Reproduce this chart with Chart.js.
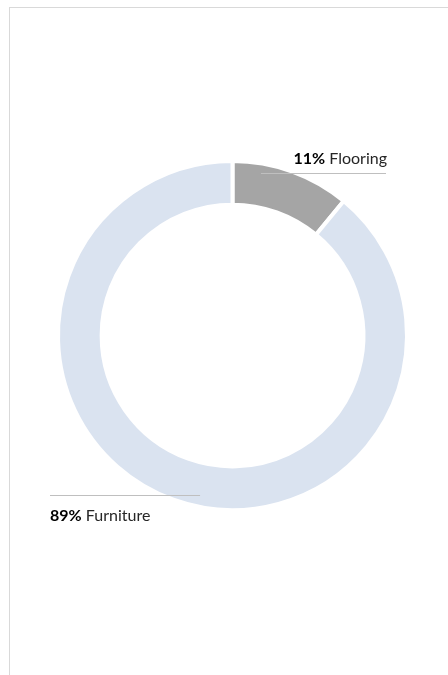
<!DOCTYPE html>
<html>
<head>
<meta charset="utf-8">
<script src="https://cdn.jsdelivr.net/npm/chart.js@4.4.1/dist/chart.umd.min.js"></script>
<style>
  html, body { margin: 0; padding: 0; background: #ffffff; }
  #frame { position: absolute; left: 9px; top: 7px; width: 460px; height: 700px;
           border-left: 1px solid #d9d9d9; border-top: 1px solid #d9d9d9; box-sizing: border-box; }
  canvas { position: absolute; left: 0; top: 0; }
</style>
</head>
<body>
<div id="frame"></div>
<canvas id="c" width="448" height="675"></canvas>
<script>
// Sales share by product category
const categories = ['Flooring', 'Furniture'];
const shares = [11, 89];
const sliceColors = ['#a5a5a5', '#dae3f0'];

// Leader-line labels: bold percentage followed by the category name
const labelPlugin = {
  id: 'leaderLabels',
  afterDatasetsDraw(chart) {
    const ctx = chart.ctx;
    const meta = chart.getDatasetMeta(0);
    const total = shares.reduce((a, b) => a + b, 0);
    meta.data.forEach((arc, i) => {
      const mid = (arc.startAngle + arc.endAngle) / 2;
      const r = arc.outerRadius - 2;
      const px = arc.x + Math.cos(mid) * r;
      const py = arc.y + Math.sin(mid) * r;
      const pct = Math.round(shares[i] / total * 100) + '%';
      const name = categories[i];
      const right = Math.cos(mid) >= 0;
      ctx.save();
      ctx.strokeStyle = '#bfbfbf';
      ctx.lineWidth = 1;
      ctx.textBaseline = 'alphabetic';
      const boldFont = 'bold 16px Lato';
      const normFont = '16px Lato';
      ctx.font = boldFont;
      const wPct = ctx.measureText(pct).width;
      ctx.font = normFont;
      const wName = ctx.measureText(' ' + name).width;
      let lineY, x0, x1, tx, ty;
      if (right) {
        lineY = Math.round(py) + 0.5;
        x0 = px - 30; x1 = 386;
        tx = x1 + 1 - (wPct + wName);
        ty = lineY - 10;
      } else {
        lineY = Math.round(py) - 2.5;
        x0 = 50; x1 = px + 26;
        tx = 50;
        ty = lineY + 25;
      }
      ctx.beginPath();
      ctx.moveTo(x0, lineY);
      ctx.lineTo(x1, lineY);
      ctx.stroke();
      ctx.fillStyle = '#000000';
      ctx.font = boldFont;
      ctx.fillText(pct, tx, ty);
      ctx.fillStyle = '#262626';
      ctx.font = normFont;
      ctx.fillText(' ' + name, tx + wPct, ty);
      ctx.restore();
    });
  }
};

new Chart(document.getElementById('c'), {
  type: 'doughnut',
  data: {
    labels: categories,
    datasets: [{
      data: shares,
      backgroundColor: sliceColors,
      borderColor: '#ffffff',
      borderWidth: 4,
      hoverOffset: 0
    }]
  },
  options: {
    responsive: false,
    animation: false,
    radius: 174.5,
    cutout: '75%',
    layout: { padding: { left: 32.5, right: 15.5, top: 135.5, bottom: 139.5 } },
    plugins: {
      legend: { display: false },
      tooltip: { enabled: false }
    }
  },
  plugins: [labelPlugin]
});
</script>
</body>
</html>
